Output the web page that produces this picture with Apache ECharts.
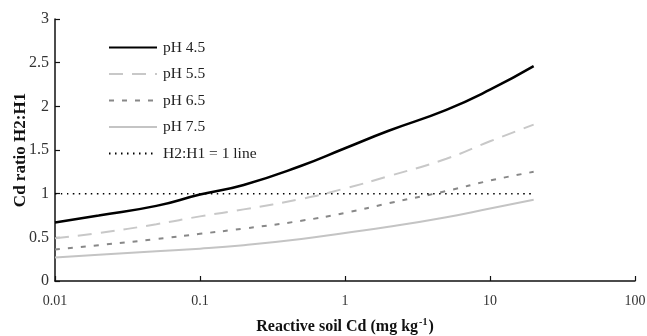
<!DOCTYPE html>
<html>
<head>
<meta charset="utf-8">
<script src="https://cdn.jsdelivr.net/npm/echarts@6/dist/echarts.min.js"></script>
<style>
  html, body { margin: 0; padding: 0; background: #fff; }
  #chart { width: 647px; height: 336px; }
</style>
</head>
<body>
<div id="chart"></div>
<script>
// reactive soil Cd (mg/kg), log axis
const cdValues = [0.01, 0.02, 0.05, 0.1, 0.2, 0.5, 1, 2, 5, 10, 20];
const ph45 = [0.67, 0.75, 0.86, 0.99, 1.10, 1.32, 1.52, 1.72, 1.96, 2.19, 2.46];
const ph55 = [0.49, 0.55, 0.65, 0.74, 0.82, 0.94, 1.06, 1.20, 1.40, 1.60, 1.79];
const ph65 = [0.36, 0.41, 0.48, 0.54, 0.60, 0.69, 0.78, 0.89, 1.03, 1.15, 1.25];
const ph75 = [0.27, 0.30, 0.34, 0.37, 0.41, 0.48, 0.55, 0.62, 0.73, 0.83, 0.93];
const refLineX = [0.01, 20];
const refLineY = [1, 1];
const xTicks = ['0.01', '0.1', '1', '10', '100'];

const font = 'Liberation Serif';
const pairs = (xs, ys) => xs.map((x, i) => [x, ys[i]]);

const chart = echarts.init(document.getElementById('chart'), null, { renderer: 'canvas' });

const mkLine = (name, data, color, width, type) => ({
  name,
  type: 'line',
  data,
  symbol: 'none',
  smooth: true,
  lineStyle: { color, width, type },
  itemStyle: { color },
  z: 3
});

chart.setOption({
  animation: false,
  textStyle: { fontFamily: font },
  grid: { left: 55, right: 12, top: 19, bottom: 55, containLabel: false, outerBoundsMode: 'none' },
  legend: {
    orient: 'vertical',
    left: 103,
    top: 34.5,
    itemWidth: 48,
    itemHeight: 16,
    itemGap: 10.5,
    itemStyle: { opacity: 0 },
    textStyle: { fontFamily: font, fontSize: 15.5, lineHeight: 16, color: '#222', padding: [0, 0, 0, 1] },
    data: ['pH 4.5', 'pH 5.5', 'pH 6.5', 'pH 7.5', 'H2:H1 = 1 line']
  },
  xAxis: {
    type: 'log',
    logBase: 10,
    min: 0.01,
    max: 100,
    name: '{b|Reactive soil Cd (mg kg}{s|-1}{b|)}',
    nameLocation: 'middle',
    nameGap: 36,
    nameMoveOverlap: false,
    nameTextStyle: {
      rich: {
        b: { fontFamily: font, fontSize: 16, fontWeight: 'bold', color: '#111' },
        s: { fontFamily: font, fontSize: 10, fontWeight: 'bold', color: '#111', verticalAlign: 'top', padding: [0, 1, 9, 1] }
      }
    },
    axisLine: { lineStyle: { color: '#111', width: 1.5 } },
    axisTick: { inside: true, length: 5, lineStyle: { color: '#111', width: 1.2 } },
    minorTick: { show: false },
    splitLine: { show: false },
    axisLabel: {
      fontFamily: font, fontSize: 14, color: '#333', margin: 13,
      formatter: (v) => xTicks.find(t => Math.abs(parseFloat(t) - v) < v * 1e-6) || ''
    }
  },
  yAxis: {
    type: 'value',
    min: 0,
    max: 3,
    interval: 0.5,
    name: 'Cd ratio H2:H1',
    nameLocation: 'middle',
    nameGap: 26,
    nameMoveOverlap: false,
    nameTextStyle: { fontFamily: font, fontSize: 17, fontWeight: 'bold', color: '#111' },
    axisLine: { show: true, lineStyle: { color: '#111', width: 1.5 } },
    axisTick: { show: true, inside: true, length: 5, lineStyle: { color: '#111', width: 1.2 } },
    splitLine: { show: false },
    axisLabel: { fontFamily: font, fontSize: 16, color: '#333', margin: 6 }
  },
  series: [
    mkLine('pH 4.5', pairs(cdValues, ph45), '#000000', 2.5, 'solid'),
    mkLine('pH 5.5', pairs(cdValues, ph55), '#c8c8c8', 2, [14, 9]),
    mkLine('pH 6.5', pairs(cdValues, ph65), '#888888', 2, [5, 8]),
    mkLine('pH 7.5', pairs(cdValues, ph75), '#c4c4c4', 2, 'solid'),
    mkLine('H2:H1 = 1 line', pairs(refLineX, refLineY), '#000000', 1.5, [1.5, 4.5])
  ]
});
</script>
</body>
</html>
